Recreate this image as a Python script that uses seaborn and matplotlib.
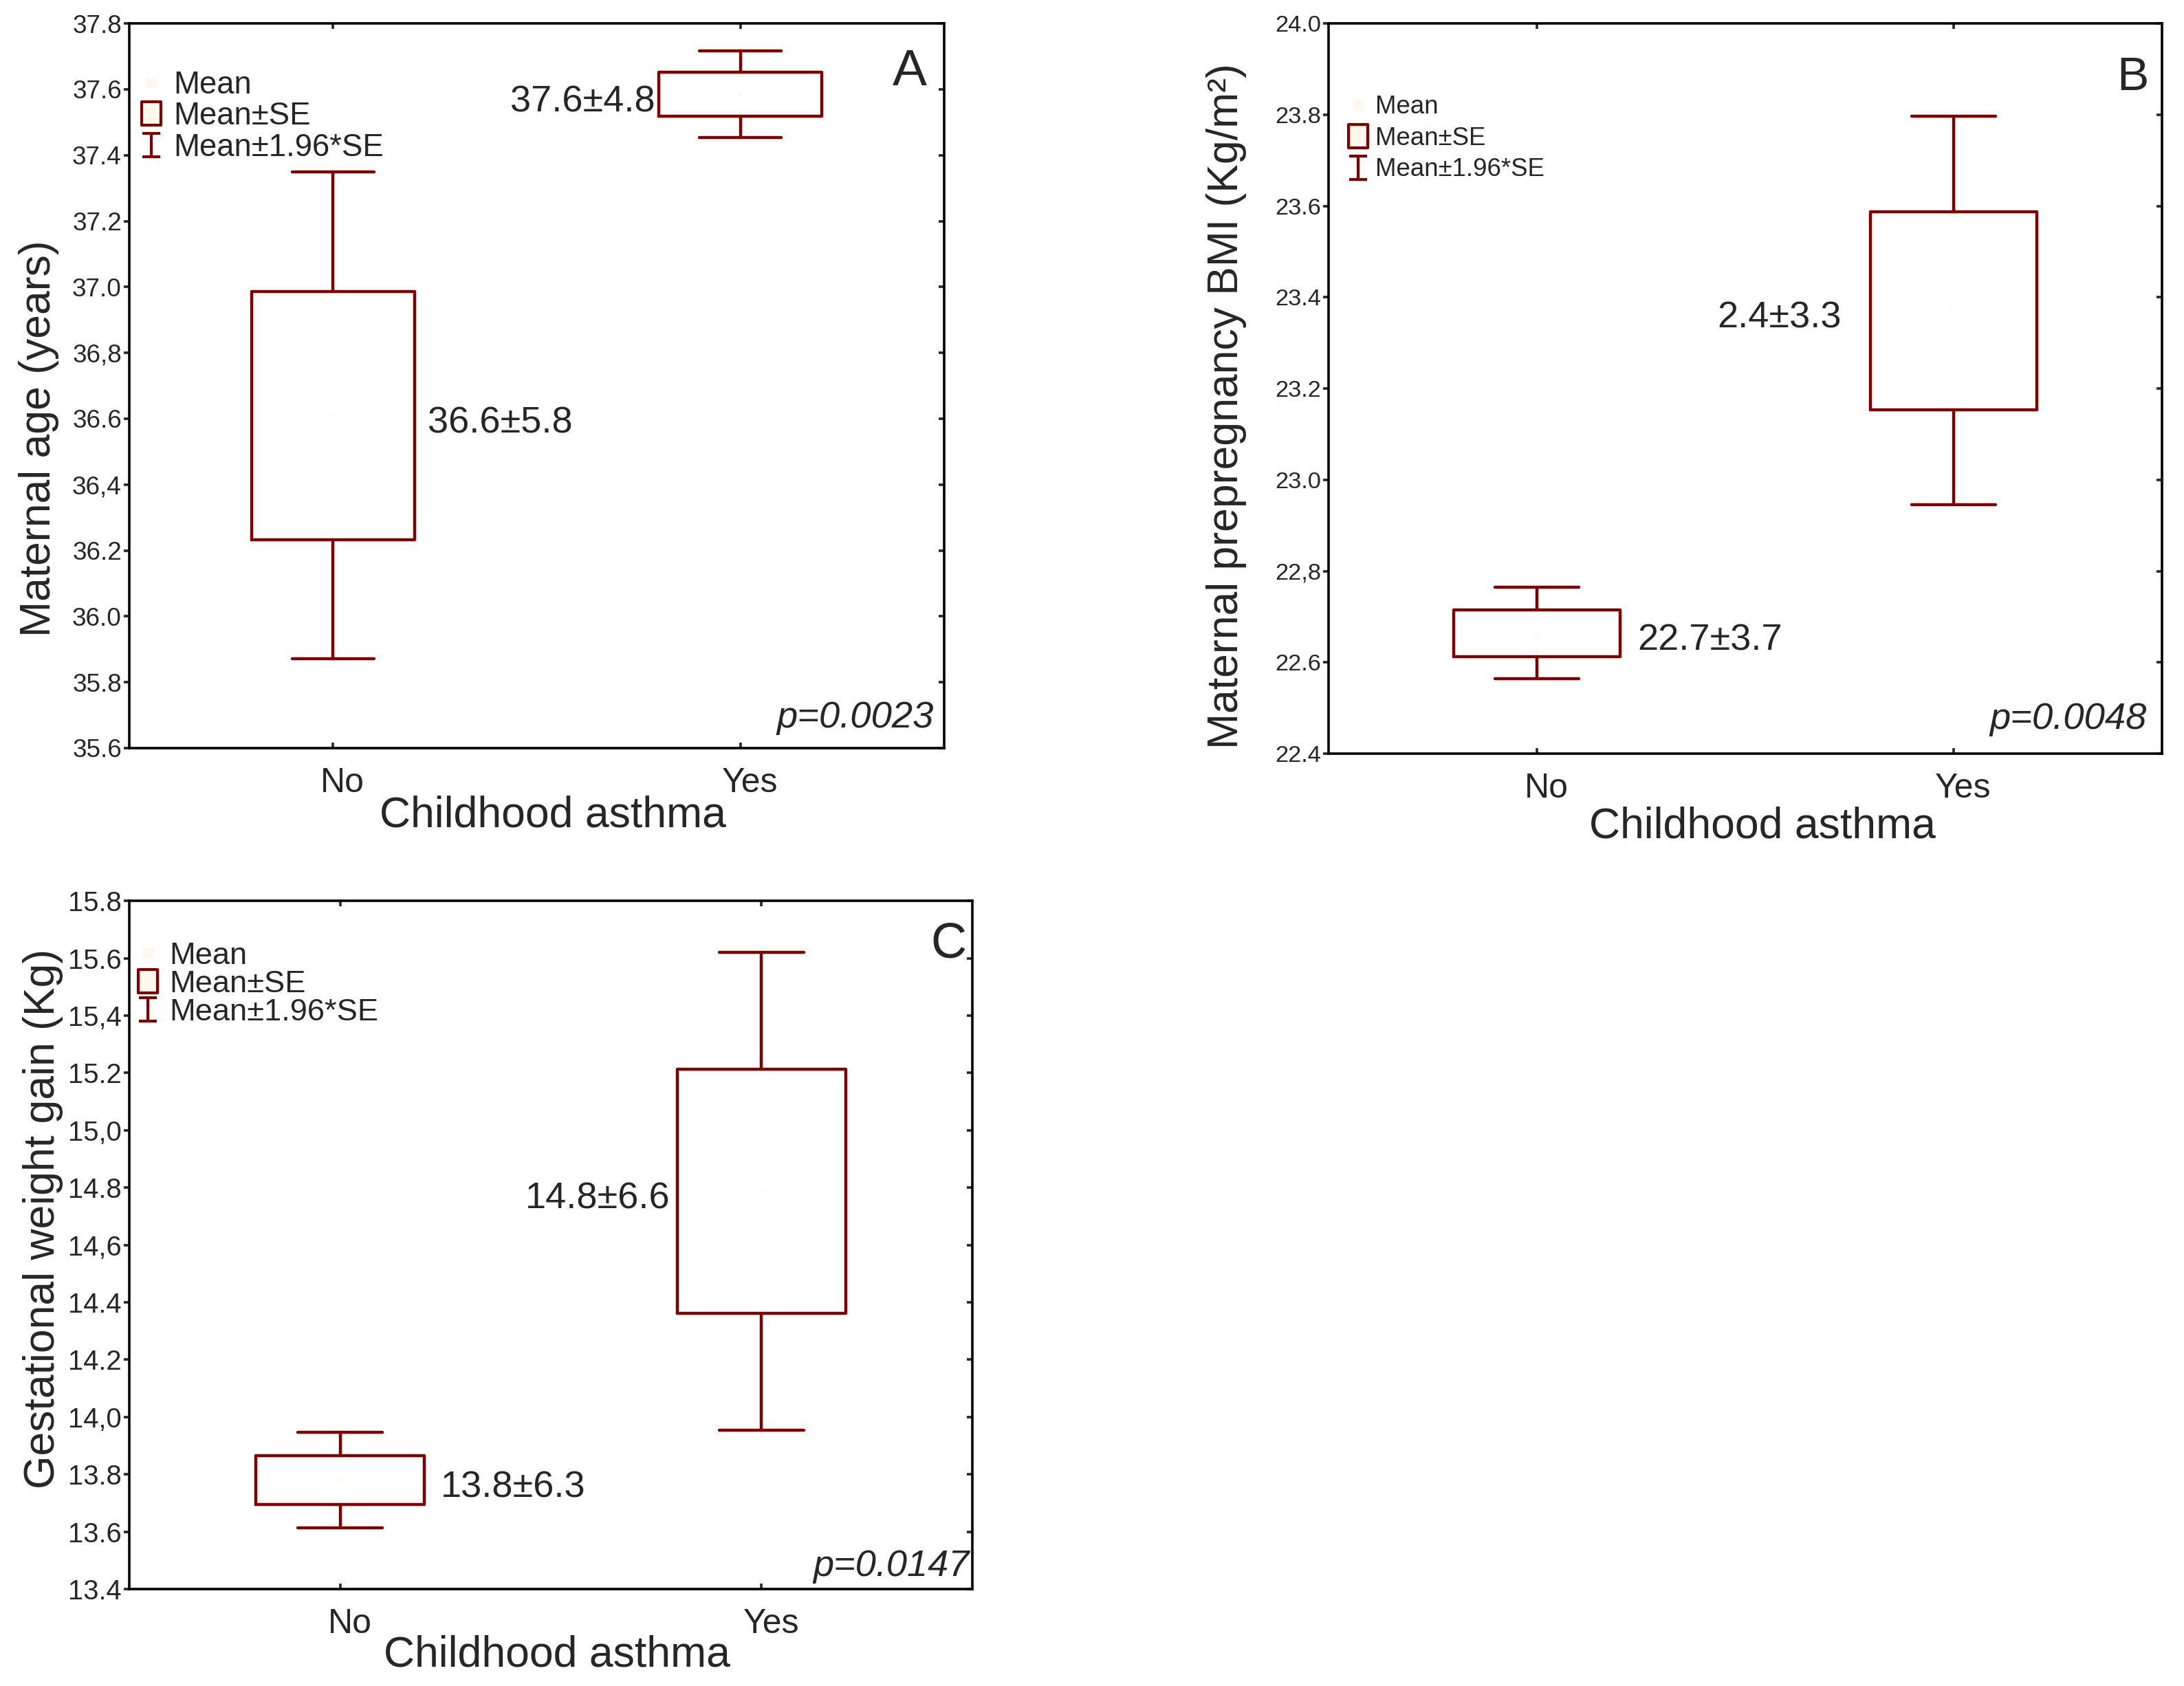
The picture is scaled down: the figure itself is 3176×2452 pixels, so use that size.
import matplotlib
matplotlib.use("Agg")
import matplotlib.pyplot as plt
import seaborn as sns
from matplotlib.lines import Line2D
from matplotlib.path import Path
from matplotlib.transforms import ScaledTranslation

# categories
groups = ["No", "Yes"]

# Panel A - maternal age (mean and SE)
age_mean = [36.61, 37.585]
age_se = [0.377, 0.067]
age_notes = ["36.6±5.8", "37.6±4.8"]
age_ticks = [35.6, 35.8, 36.0, 36.2, 36.4, 36.6, 36.8, 37.0, 37.2, 37.4, 37.6, 37.8]
age_ticklabels = ["35.6", "35.8", "36.0", "36.2", "36,4", "36.6", "36,8", "37.0", "37.2", "37.4", "37.6", "37.8"]

# Panel B - prepregnancy BMI
bmi_mean = [22.664, 23.371]
bmi_se = [0.051, 0.217]
bmi_notes = ["22.7±3.7", "2.4±3.3"]
bmi_ticks = [22.4, 22.6, 22.8, 23.0, 23.2, 23.4, 23.6, 23.8, 24.0]
bmi_ticklabels = ["22.4", "22.6", "22,8", "23.0", "23.2", "23.4", "23.6", "23.8", "24.0"]

# Panel C - gestational weight gain
gwg_mean = [13.781, 14.787]
gwg_se = [0.085, 0.425]
gwg_notes = ["13.8±6.3", "14.8±6.6"]
gwg_ticks = [13.4, 13.6, 13.8, 14.0, 14.2, 14.4, 14.6, 14.8, 15.0, 15.2, 15.4, 15.6, 15.8]
gwg_ticklabels = ["13.4", "13.6", "13.8", "14,0", "14.2", "14.4", "14,6", "14.8", "15,0", "15.2", "15,4", "15.6", "15.8"]

pvalues = ["p=0.0023", "p=0.0048", "p=0.0147"]
letters = ["A", "B", "C"]
ylabels = ["Maternal age (years)", "Maternal prepregnancy BMI (Kg/m²)", "Gestational weight gain (Kg)"]
legend_labels = ["Mean", "Mean±SE", "Mean±1.96*SE"]

RED = "#800000"
CREAM = "#fff8ec"

sns.set_style("ticks")
plt.rcParams["font.family"] = ["Liberation Sans", "DejaVu Sans"]
plt.rcParams["axes.linewidth"] = 1.3

# legend glyphs
rect_marker = Path([(-0.41, -0.5), (0.41, -0.5), (0.41, 0.5), (-0.41, 0.5), (-0.41, -0.5)],
                   [Path.MOVETO, Path.LINETO, Path.LINETO, Path.LINETO, Path.CLOSEPOLY])
ibar_marker = Path([(-0.4, 0.5), (0.4, 0.5), (0, 0.5), (0, -0.5), (-0.4, -0.5), (0.4, -0.5)],
                   [Path.MOVETO, Path.LINETO, Path.MOVETO, Path.LINETO, Path.MOVETO, Path.LINETO])
handles = [
    Line2D([], [], ls="none", marker="s", ms=6, mfc=CREAM, mec="none"),
    Line2D([], [], ls="none", marker=rect_marker, ms=12, mfc=CREAM, mec=RED, mew=1.5),
    Line2D([], [], ls="none", marker=ibar_marker, ms=12, mfc="none", mec=RED, mew=1.5),
]

fig = plt.figure(figsize=(15.88, 12.26), dpi=200)


def draw_panel(rect, means, ses, ticks, ticklabels, notes, idx, tick_fs, leg_fs, leg_xy,
               leg_space, note_gaps, p_off, p_fs, let_off, let_fs, xlab_xy, ylab_xy):
    ax = fig.add_axes(rect)
    # mean points (cream, nearly invisible like the original)
    sns.stripplot(x=groups, y=means, ax=ax, color="#fffcf6", marker="s", size=3,
                  jitter=False, linewidth=0, zorder=4)
    stats = []
    for m, s in zip(means, ses):
        stats.append(dict(med=m, mean=m, q1=m - s, q3=m + s,
                          whislo=m - 1.96 * s, whishi=m + 1.96 * s, fliers=[]))
    lp = dict(color=RED, linewidth=1.6)
    ax.bxp(stats, positions=[0, 1], widths=0.4, capwidths=0.2, showfliers=False,
           manage_ticks=False, boxprops=lp, whiskerprops=lp, capprops=lp,
           medianprops=dict(linewidth=0))
    ax.set_xlim(-0.5, 1.5)
    ax.set_ylim(ticks[0], ticks[-1])
    ax.set_yticks(ticks, ticklabels)
    ax.set_xticks([0, 1], groups)

    ax.tick_params(axis="y", left=True, right=True, direction="in", length=3,
                   width=1.3, labelsize=tick_fs, pad=4)
    ax.tick_params(axis="x", top=True, bottom=True, direction="in", length=3,
                   width=1.3, labelsize=18, pad=10)
    for t in ax.yaxis.get_major_ticks():
        t.tick1line.set_marker(0)  # left ticks point outwards
    shift = ScaledTranslation(5 / 72, 0, fig.dpi_scale_trans)
    for lab in ax.get_xticklabels():
        lab.set_transform(lab.get_transform() + shift)
    for sp in ax.spines.values():
        sp.set_linewidth(1.3)
        sp.set_color("black")

    ax.set_xlabel("Childhood asthma", fontsize=22.5)
    ax.xaxis.set_label_coords(*xlab_xy)
    ax.set_ylabel(ylabels[idx], fontsize=22.5)
    ax.yaxis.set_label_coords(*ylab_xy)

    # mean +- sd notes beside each box
    for i, (m, txt) in enumerate(zip(means, notes)):
        side, gap = note_gaps[i]
        if side == "right":
            ax.annotate(txt, xy=(i + 0.2, m), xytext=(gap, -4), textcoords="offset points",
                        ha="left", va="center", fontsize=19.5)
        else:
            ax.annotate(txt, xy=(i - 0.2, m), xytext=(-gap, -4), textcoords="offset points",
                        ha="right", va="center", fontsize=19.5)

    ax.annotate(pvalues[idx], xy=(1, 0), xycoords="axes fraction", xytext=p_off,
                textcoords="offset points", ha="right", va="baseline",
                fontsize=p_fs, style="italic")
    ax.annotate(letters[idx], xy=(1, 1), xycoords="axes fraction", xytext=let_off,
                textcoords="offset points", ha="right", va="top", fontsize=let_fs)

    ax.legend(handles, legend_labels, loc="upper left", bbox_to_anchor=leg_xy,
              frameon=False, fontsize=leg_fs, handlelength=0.8, handletextpad=0.3,
              labelspacing=leg_space, borderpad=0, borderaxespad=0)
    return ax


draw_panel([0.0592, 0.5563, 0.3731, 0.4298], age_mean, age_se, age_ticks, age_ticklabels,
           age_notes, 0, tick_fs=13.3, leg_fs=16.4, leg_xy=(0.012, 0.936), leg_space=0.04,
           note_gaps=[("right", 7), ("left", 2)], p_off=(-5.4, 10.8), p_fs=19.6,
           let_off=(-9, -13), let_fs=27, xlab_xy=(0.52, -0.065), ylab_xy=(-0.086, 0.427))

draw_panel([0.6083, 0.5530, 0.3816, 0.4331], bmi_mean, bmi_se, bmi_ticks, bmi_ticklabels,
           bmi_notes, 1, tick_fs=12.4, leg_fs=13.2, leg_xy=(0.023, 0.902), leg_space=0.29,
           note_gaps=[("right", 9), ("left", 15)], p_off=(-8, 13), p_fs=19.6,
           let_off=(-7, -17), let_fs=25, xlab_xy=(0.521, -0.072), ylab_xy=(-0.098, 0.476))

draw_panel([0.0592, 0.0575, 0.3860, 0.4082], gwg_mean, gwg_se, gwg_ticks, gwg_ticklabels,
           gwg_notes, 2, tick_fs=14.4, leg_fs=16.3, leg_xy=(0.007, 0.94), leg_space=0.0,
           note_gaps=[("right", 8.6), ("left", 3.6)], p_off=(-1.5, 7), p_fs=19.5,
           let_off=(-3, -11), let_fs=26, xlab_xy=(0.507, -0.066), ylab_xy=(-0.078, 0.538))

fig.savefig("out.png", dpi=200)
